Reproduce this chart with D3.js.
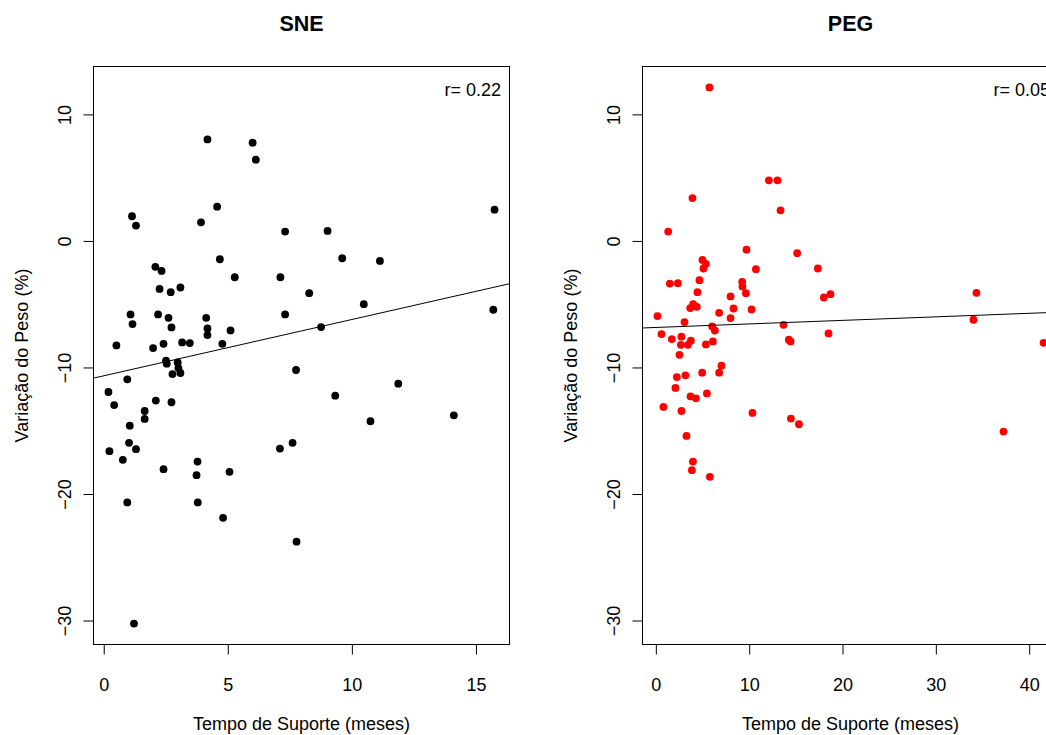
<!DOCTYPE html>
<html><head><meta charset="utf-8">
<script src="https://cdn.jsdelivr.net/npm/d3@7"></script>
<style>
body{margin:0;background:#fff}
svg{display:block}
text{font-family:"Liberation Sans",Arial,Helvetica,sans-serif;fill:#000}
</style>
</head><body>
<svg id="c" width="1046" height="735"></svg>
<script>
// ---- data ----
const sneX = [4.18,6.00,6.13,4.57,1.14,1.30,3.92,7.31,4.68,2.08,2.33,5.28,7.12,2.25,2.70,3.09,
  1.08,1.16,2.19,2.61,2.73,4.13,4.18,4.18,7.31,5.11,0.51,1.99,2.41,3.16,3.47,4.78,
  2.51,2.54,2.98,3.01,2.77,3.09,0.95,7.75,0.19,0.42,2.10,2.73,1.65,1.65,1.05,1.02,
  1.30,0.23,0.77,7.10,7.61,2.41,3.78,3.74,5.07,0.95,3.79,4.81,7.77,1.22,
  15.75,9.02,9.61,11.13,8.28,10.48,15.70,8.76,9.33,11.87,10.75,14.11];
const sneY = [8.02,7.76,6.42,2.71,1.95,1.21,1.47,0.74,-1.45,-2.05,-2.37,-2.87,-2.87,-3.79,-4.05,-3.68,
  -5.81,-6.57,-5.81,-6.08,-6.84,-6.08,-6.92,-7.44,-5.81,-7.07,-8.26,-8.47,-8.13,-8.02,-8.07,-8.13,
  -9.47,-9.70,-9.60,-10.05,-10.52,-10.44,-10.94,-10.20,-11.94,-12.97,-12.62,-12.75,-13.44,-14.07,-14.60,-15.96,
  -16.46,-16.62,-17.30,-16.41,-15.96,-18.04,-17.44,-18.51,-18.25,-20.67,-20.67,-21.88,-23.77,-30.24,
  2.47,0.79,-1.37,-1.58,-4.13,-5.00,-5.44,-6.81,-12.23,-11.28,-14.25,-13.78];

const pegX = [5.74,12.11,13.03,13.36,3.92,1.32,9.71,15.14,4.99,5.36,5.10,10.72,17.36,4.67,1.50,2.36,
  9.25,9.28,9.65,4.46,8.00,18.00,18.71,4.00,3.68,4.39,6.78,8.32,10.25,8.00,0.17,3.07,
  6.03,6.32,13.68,0.60,1.71,2.74,3.75,2.68,3.43,5.36,6.11,14.25,14.43,18.50,2.53,
  2.25,3.17,4.96,6.78,7.03,2.10,3.71,4.29,5.47,0.81,2.74,10.35,14.47,15.33,3.28,
  3.97,3.86,5.79,34.35,34.03,37.25,41.54];
const pegY = [12.13,4.79,4.79,2.42,3.39,0.74,-0.69,-0.97,-1.50,-1.81,-2.18,-2.23,-2.18,-3.10,-3.37,-3.34,
  -3.23,-3.61,-4.13,-4.05,-4.39,-4.47,-4.21,-5.00,-5.31,-5.21,-5.68,-5.34,-5.42,-6.10,-5.94,-6.41,
  -6.76,-7.08,-6.63,-7.36,-7.76,-7.57,-7.89,-8.21,-8.21,-8.18,-7.94,-7.81,-7.94,-7.31,-9.00,
  -10.76,-10.62,-10.41,-10.41,-9.86,-11.62,-12.28,-12.44,-12.05,-13.12,-13.44,-13.59,-14.04,-14.49,-15.41,
  -17.44,-18.12,-18.64,-4.10,-6.23,-15.07,-8.05];

const panelTitles = ["SNE", "PEG"];
const corrLabels = ["r= 0.22", "r= 0.05"];
const fitIntercepts = [-10.66, -6.84];
const fitSlopes = [0.445, 0.028];
const sneXTicks = [0, 5, 10, 15];
const pegXTicks = [0, 10, 20, 30, 40];
const yTicks = [-30, -20, -10, 0, 10];
const pointColors = ["#000000", "#ff0000"];
const xTitle = "Tempo de Suporte (meses)";
const yTitle = "Variação do Peso (%)";

// ---- layout ----
const svg = d3.select("#c");
const plotTop = 66, plotBottom = 645;
const fs = "18px";
const panels = [
  {x0: 93, x1: 510, xs: sneX, ys: sneY, ticks: sneXTicks},
  {x0: 642, x1: 1059, xs: pegX, ys: pegY, ticks: pegXTicks}
];

function padExt(arr){
  const [a,b] = d3.extent(arr); const r = b - a;
  return [a - 0.04*r, b + 0.04*r];
}
const yScale = d3.scaleLinear().domain(padExt(sneY.concat(pegY))).range([plotBottom, plotTop]);

panels.forEach((p, i) => {
  const x = d3.scaleLinear().domain(padExt(p.xs)).range([p.x0, p.x1]);
  const g = svg.append("g");
  const cx = (p.x0 + p.x1) / 2;

  const clipId = "clip" + i;
  svg.append("clipPath").attr("id", clipId).append("rect")
    .attr("x", p.x0).attr("y", plotTop).attr("width", p.x1 - p.x0).attr("height", plotBottom - plotTop);

  // points
  g.selectAll("circle").data(d3.range(p.xs.length)).join("circle")
    .attr("cx", k => x(p.xs[k])).attr("cy", k => yScale(p.ys[k]))
    .attr("r", 3.9).attr("fill", pointColors[i]);

  // regression line
  const [d0, d1] = x.domain();
  g.append("line").attr("clip-path", `url(#${clipId})`)
    .attr("x1", x(d0)).attr("y1", yScale(fitIntercepts[i] + fitSlopes[i]*d0))
    .attr("x2", x(d1)).attr("y2", yScale(fitIntercepts[i] + fitSlopes[i]*d1))
    .attr("stroke", "#000").attr("stroke-width", 1);

  // box
  g.append("rect").attr("x", p.x0 + 0.5).attr("y", plotTop + 0.5)
    .attr("width", p.x1 - p.x0 - 1).attr("height", plotBottom - plotTop - 1)
    .attr("fill", "none").attr("stroke", "#000").attr("stroke-width", 1);

  // x axis
  const xa = g.append("g").attr("transform", `translate(0,${plotBottom - 0.5})`)
    .call(d3.axisBottom(x).tickValues(p.ticks).tickSize(10).tickSizeOuter(0));
  xa.select(".domain").attr("d", `M${x(p.ticks[0])},0H${x(p.ticks[p.ticks.length-1])}`);
  xa.selectAll(".tick text").attr("font-size", fs).attr("font-family", '"Liberation Sans",Arial,sans-serif')
    .attr("fill", "#000").attr("dy", null).attr("y", 46);

  // y axis
  const ya = g.append("g").attr("transform", `translate(${p.x0 + 0.5},0)`)
    .call(d3.axisLeft(yScale).tickValues(yTicks).tickSize(10).tickSizeOuter(0));
  ya.select(".domain").attr("d", `M0,${yScale(yTicks[0])}V${yScale(yTicks[yTicks.length-1])}`);
  ya.selectAll(".tick text").attr("font-size", fs).attr("font-family", '"Liberation Sans",Arial,sans-serif')
    .attr("fill", "#000").attr("x", null).attr("dy", null).attr("text-anchor", "middle")
    .attr("transform", "translate(-23,0) rotate(-90)");

  // titles
  g.append("text").attr("x", cx).attr("y", 31).attr("text-anchor", "middle")
    .attr("font-size", "21.5px").attr("font-weight", "bold").text(panelTitles[i]);
  g.append("text").attr("x", cx).attr("y", 730).attr("text-anchor", "middle")
    .attr("font-size", fs).text(xTitle);
  g.append("text").attr("transform", `translate(${p.x0 - 65},${(plotTop + plotBottom)/2}) rotate(-90)`)
    .attr("text-anchor", "middle").attr("font-size", fs).text(yTitle);
  g.append("text").attr("x", p.x1 - 9).attr("y", 96).attr("text-anchor", "end")
    .attr("font-size", fs).text(corrLabels[i]);
});
</script>
</body></html>
